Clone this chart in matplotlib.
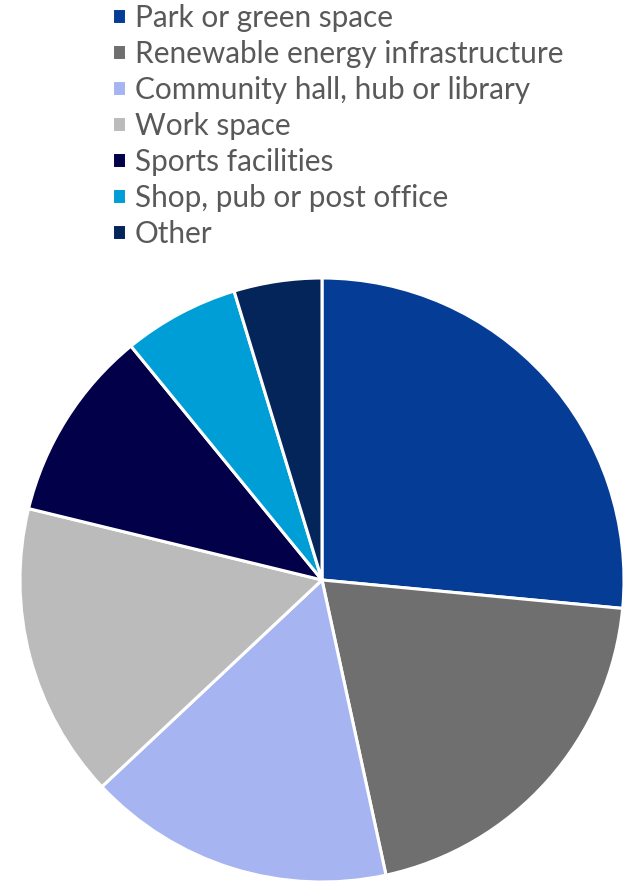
import matplotlib.pyplot as plt

# Share of responses by facility type
labels = ["Park or green space", "Renewable energy infrastructure",
          "Community hall, hub or library", "Work space", "Sports facilities",
          "Shop, pub or post office", "Other"]
shares = [26.5, 20.1, 16.4, 15.8, 10.3, 6.2, 4.7]
colors = ["#053C96", "#6F6F6F", "#A6B4F2", "#BBBBBB", "#010048", "#009ED6", "#042559"]

plt.rcParams["font.family"] = ["Lato", "DejaVu Sans"]

W, H = 623, 885
fig = plt.figure(figsize=(W / 100, H / 100), dpi=100)

# pie centre (322, 580) px, radius 302 px
cx, cy, r = 322, 580, 302
ax = fig.add_axes([(cx - r) / W, (H - cy - r) / H, 2 * r / W, 2 * r / H])
wedges, _ = ax.pie(shares, colors=colors, startangle=90, counterclock=False,
                   radius=1, wedgeprops=dict(edgecolor="white", linewidth=2.2))
ax.set_xlim(-1, 1)
ax.set_ylim(-1, 1)
ax.set_aspect("equal")
ax.axis("off")

fs = 21.4
leg = fig.legend(wedges, labels, loc="upper left",
                 bbox_to_anchor=(112 / W, 1 - 3.5 / H),
                 frameon=False, fontsize=fs, labelcolor="#595959",
                 handlelength=0.46, handleheight=0.46, handletextpad=0.3,
                 labelspacing=0.27, borderaxespad=0, borderpad=0)

fig.savefig("out.png", dpi=100)
